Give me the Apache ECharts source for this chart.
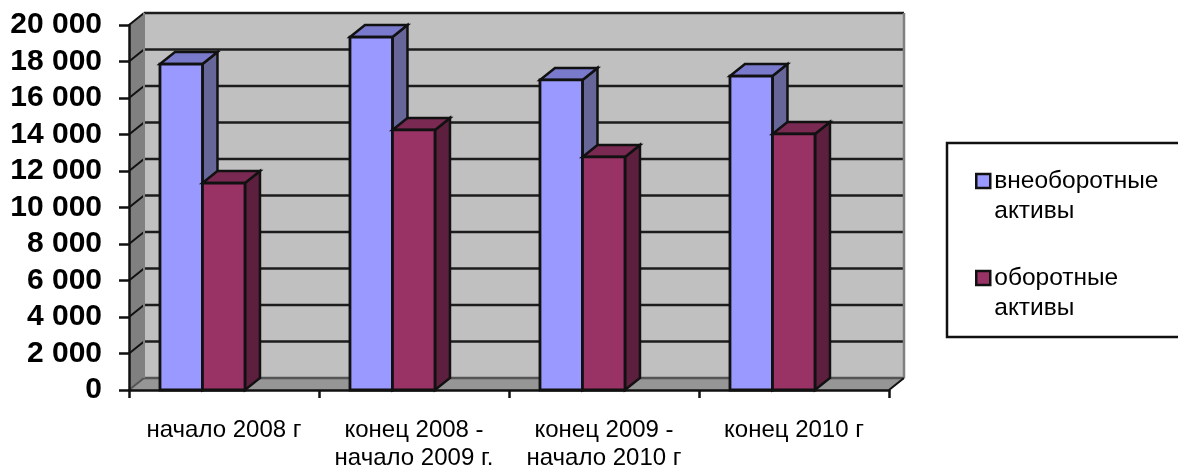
<!DOCTYPE html>
<html><head><meta charset="utf-8">
<style>html,body{margin:0;padding:0;background:#fff}#c{width:1178px;height:466px}</style>
<script src="https://cdn.jsdelivr.net/npm/echarts@6/dist/echarts.min.js"></script>
</head><body><div id="c"></div>
<script>
const categories = ['начало 2008 г', 'конец 2008 -\nначало 2009 г.', 'конец 2009 -\nначало 2010 г', 'конец 2010 г'];
const nonCurrent = [17860, 19340, 16990, 17200];
const current = [11340, 14250, 12770, 14030];
const seriesNames = ['внеоборотные\nактивы', 'оборотные\nактивы'];
const yTicks = [0, 2000, 4000, 6000, 8000, 10000, 12000, 14000, 16000, 18000, 20000];

const DX = 15, DY = 12;
const FONT = '"Liberation Sans", Arial, sans-serif';
const BLACK = '#111';
const palette = [
  { front: '#9999ff', top: '#7a7acc', side: '#666699' },
  { front: '#993366', top: '#7a2952', side: '#5c1f3d' }
];

const poly = (points, fill, stroke, lineWidth) => ({
  type: 'polygon', shape: { points },
  style: { fill: fill, stroke: stroke || 'none', lineWidth: lineWidth || 0, lineJoin: 'miter' }
});
const seg = (a, b, stroke, lineWidth) => ({
  type: 'line', shape: { x1: a[0], y1: a[1], x2: b[0], y2: b[1] },
  style: { stroke, lineWidth }
});

function renderWalls(params, api) {
  const o = api.coord([0, 0]);
  const band = api.size([1, 0])[0];
  const left = o[0] - band / 2;
  const right = left + band * categories.length;
  const bottom = o[1];
  const top = api.coord([0, yTicks[yTicks.length - 1]])[1];
  const kids = [
    poly([[left + DX, top - DY], [right + DX, top - DY], [right + DX, bottom - DY], [left + DX, bottom - DY]], '#c0c0c0'),
    poly([[left, bottom], [left, top], [left + DX, top - DY], [left + DX, bottom - DY]], '#808080'),
    poly([[left, bottom], [right, bottom], [right + DX, bottom - DY], [left + DX, bottom - DY]], '#969696')
  ];
  yTicks.forEach(t => {
    const y = api.coord([0, t])[1];
    const c = t === 0 ? '#555' : '#1c1c1c';
    kids.push(seg([left, y], [left + DX, y - DY], t === 0 ? '#555' : BLACK, 2));
    kids.push(seg([left + DX, y - DY], [right + DX, y - DY], c, 2.5));
  });
  kids.push(seg([right + DX, top - DY], [right + DX, bottom - DY], '#808080', 2.5));
  kids.push(seg([left + DX, top - DY], [left + DX, bottom - DY], '#808080', 2));
  kids.push(seg([right, bottom], [right + DX, bottom - DY], BLACK, 2));
  return { type: 'group', children: kids };
}

function barRenderer(slot) {
  return function (params, api) {
    const i = api.value(0);
    const base = api.coord([i, 0]);
    const tip = api.coord([i, api.value(1)]);
    const band = api.size([1, 0])[0];
    const w = band * 0.2237;
    const x0 = base[0] - band / 2 + band * 0.163 + slot * w;
    const x1 = x0 + w;
    const yT = tip[1], yB = base[1];
    const c = palette[slot];
    return {
      type: 'group', children: [
        poly([[x1, yB], [x1, yT], [x1 + DX, yT - DY], [x1 + DX, yB - DY]], c.side, BLACK, 2.5),
        poly([[x0, yT], [x1, yT], [x1 + DX, yT - DY], [x0 + DX, yT - DY]], c.top, BLACK, 2.5),
        poly([[x0, yB], [x0, yT], [x1, yT], [x1, yB]], c.front, BLACK, 2.8)
      ]
    };
  };
}

const LEGEND_ICON = 'path://M0 0H14V14H0Z M0 44L0 44Z';

const chart = echarts.init(document.getElementById('c'), null, { renderer: 'canvas' });
chart.setOption({
  animation: false,
  backgroundColor: '#fff',
  grid: { left: 129, right: 289, top: 25, bottom: 76, containLabel: false, outerBoundsMode: 'none' },
  xAxis: {
    type: 'category', data: categories, boundaryGap: true, z: 10,
    axisLine: { show: true, lineStyle: { color: BLACK, width: 2.5 } },
    axisTick: { show: true, alignWithLabel: false, length: 8, lineStyle: { color: BLACK, width: 2.5 } },
    axisLabel: { interval: 0, margin: 26, fontFamily: FONT, fontSize: 24, lineHeight: 28, color: '#000', verticalAlign: 'top' }
  },
  yAxis: {
    type: 'value', min: 0, max: 20000, interval: 2000, z: 10,
    splitLine: { show: false },
    axisLine: { show: true, lineStyle: { color: BLACK, width: 2.5 } },
    axisTick: { show: true, length: 10, lineStyle: { color: BLACK, width: 2.5 } },
    axisLabel: {
      margin: 27, fontFamily: FONT, fontSize: 30, fontWeight: 'bold', color: '#000', padding: [4, 0, 0, 0],
      formatter: v => String(v).replace(/\B(?=(\d{3})+$)/g, ' ')
    }
  },
  legend: {
    orient: 'vertical', left: 975, top: 166, padding: 0, itemGap: 37,
    itemWidth: 14, itemHeight: 44, selectedMode: false,
    textStyle: { fontFamily: FONT, fontSize: 24.5, lineHeight: 30, color: '#000', padding: [0, 0, 0, -1] },
    data: seriesNames.map((n, i) => ({
      name: n, icon: LEGEND_ICON,
      itemStyle: { color: palette[i].front, borderColor: BLACK, borderWidth: 2.5 }
    }))
  },
  graphic: [{
    type: 'polyline', silent: true,
    shape: { points: [[1178, 143], [947, 143], [947, 337], [1178, 337]] },
    style: { fill: 'none', stroke: BLACK, lineWidth: 2.5 }
  }],
  series: [
    { type: 'custom', name: 'стены', z: 1, silent: true, renderItem: renderWalls, data: [[0, 0]], encode: { x: 0, y: 1 } },
    { type: 'custom', name: seriesNames[0], z: 2, renderItem: barRenderer(0), data: nonCurrent.map((v, i) => [i, v]), encode: { x: 0, y: 1 }, itemStyle: { color: palette[0].front } },
    { type: 'custom', name: seriesNames[1], z: 3, renderItem: barRenderer(1), data: current.map((v, i) => [i, v]), encode: { x: 0, y: 1 }, itemStyle: { color: palette[1].front } }
  ]
});
</script></body></html>
